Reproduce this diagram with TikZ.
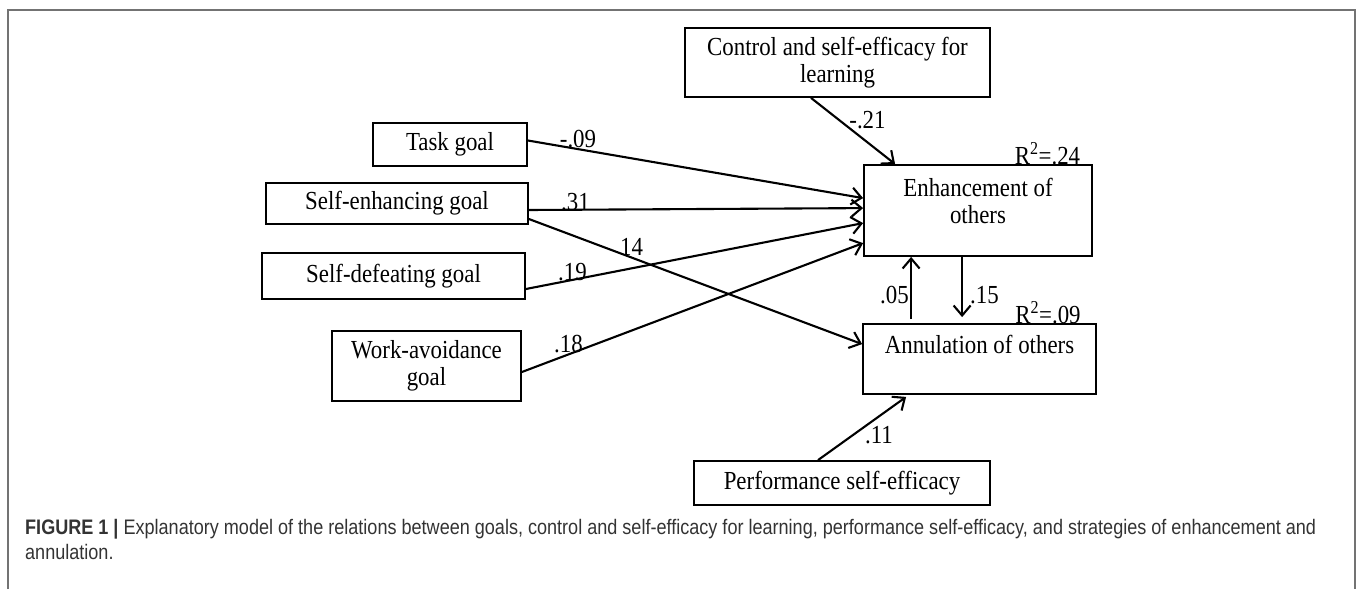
\documentclass[tikz,border=0pt]{standalone}
\usepackage{fontspec}
\setmainfont[FakeStretch=0.88]{Liberation Serif}
\newfontfamily\capfont[FakeStretch=0.86]{Liberation Sans}
\usetikzlibrary{arrows.meta, calc}
\tikzset{
  box/.style={draw, line width=1.8pt, rectangle, inner sep=0pt, align=center, font=\fontsize{26}{27}\selectfont},
  link/.style={line width=2.1pt, -{Straight Barb[length=10pt, width=17pt, line width=2.1pt]}},
  coef/.style={inner sep=0pt, anchor=base, font=\fontsize{26}{27}\selectfont}
}

\begin{document}
\begin{tikzpicture}[x=1pt, y=-1pt]
\useasboundingbox (0,0) rectangle (1357,589);
\draw[line width=2pt, black!55] (8,589) -- (8,10) -- (1355,10) -- (1355,589);
% boxes
\node[box, minimum width=305pt, minimum height=69pt] (ctrl) at (837.5,62.5) {Control and self-efficacy for\\learning};
\node[box, minimum width=154pt, minimum height=43pt] (task) at (450,144.5) {Task goal};
\node[box, minimum width=262pt, minimum height=41pt] (selfenh) at (397,203.5) {Self-enhancing goal};
\node[box, minimum width=263pt, minimum height=46pt] (selfdef) at (393.5,276) {Self-defeating goal};
\node[box, minimum width=189pt, minimum height=70pt] (workav) at (426.5,366) {Work-avoidance\\goal};
\node[box, minimum width=228pt, minimum height=91pt] (enh) at (978,210.5) {};
\node[coef, anchor=center, align=center] (enhtext) at (978,201) {Enhancement of\\others};
\node[box, minimum width=233pt, minimum height=70pt] (ann) at (979.5,359) {};
\node[coef] (anntext) at (979.5,353) {Annulation of others};
\node[box, minimum width=296pt, minimum height=44pt] (perf) at (842,483) {Performance self-efficacy};
% paths
\draw[link] ($(task.east)+(0,-4)$) -- ($(enh.north west)+(0,34)$);
\draw[link] ($(selfenh.east)+(0,6.5)$) -- ($(enh.north west)+(0,44)$);
\draw[link] ($(selfenh.east)+(0,15.5)$) -- ($(ann.north west)+(0,21)$);
\draw[link] ($(selfdef.east)+(0,13)$) -- ($(enh.north west)+(0,59)$);
\draw[link] ($(workav.east)+(0,6)$) -- ($(enh.north west)+(0,79)$);
\draw[link] ($(ctrl.south)+(-26.5,0)$) -- ($(enh.north west)+(32,0)$);
\draw[link] ($(perf.north)+(-24,0)$) -- ($(ann.south west)+(44,2)$);
\draw[link] ($(ann.north west)+(49,-4)$) -- ($(enh.south west)+(48,0)$);
\draw[link] ($(enh.south west)+(99,0)$) -- ($(ann.north west)+(100,-6)$);
% coefficients
\node[coef] (c1) at (578,147) {-.09};
\node[coef] (c2) at (575.5,210) {.31};
\node[coef] (c3) at (631.5,255) {14};
\node[coef] (c4) at (572.5,280) {.19};
\node[coef] (c5) at (568.5,352) {.18};
\node[coef] (c6) at (867.5,128) {-.21};
\node[coef] (c7) at (894.5,303) {.05};
\node[coef] (c8) at (984.5,303) {.15};
\node[coef] (c9) at (879,443) {.11};
\node[coef] (r1) at (1047.5,164) {R\textsuperscript{2}=.24};
\node[coef] (r2) at (1048,323) {R\textsuperscript{2}=.09};
% caption
\node[anchor=base west, inner sep=0pt, align=left, font=\capfont\fontsize{21}{25}\selectfont, text=black!80] (cap) at (25,559)
  {\textbf{FIGURE 1 |} Explanatory model of the relations between goals, control and self-efficacy for learning, performance self-efficacy, and strategies of enhancement and\\annulation.};
\end{tikzpicture}
\end{document}
